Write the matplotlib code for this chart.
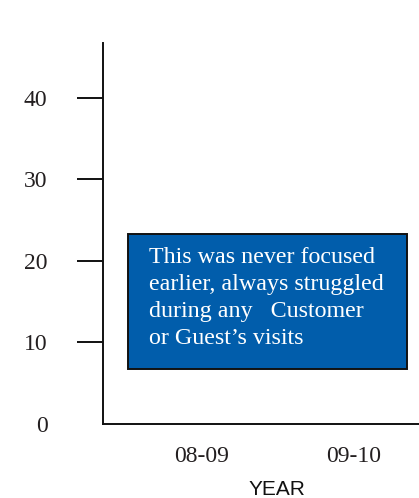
import matplotlib
matplotlib.use("Agg")
import matplotlib.pyplot as plt
from matplotlib.patches import Rectangle

# dades
years = ['08-09', '09-10']
y_ticks = [0, 10, 20, 30, 40]
note = ("This was never focused\n"
        "earlier, always struggled\n"
        "during any   Customer\n"
        "or Guest\u2019s visits")

fig = plt.figure(figsize=(4.19, 4.98), dpi=100)
ax = fig.add_axes([0.2458, 0.1486, 0.7542, 0.7651])

x = list(range(len(years)))
ax.set_xlim(-0.651, 1.43)
ax.set_ylim(0, 46.7)

ax.set_xticks(x)
ax.set_xticklabels(years, family='Liberation Serif', fontsize=17, color='#231f20')
ax.set_yticks(y_ticks)
ax.set_yticklabels([str(v) for v in y_ticks], family='Liberation Serif', fontsize=17, color='#231f20')
ax.tick_params(axis='x', length=0, pad=16)
ax.tick_params(axis='y', length=19, width=1.4, pad=21, color='#111111')
ax.yaxis.get_major_ticks()[0].tick1line.set_visible(False)

for s in ['top', 'right']:
    ax.spines[s].set_visible(False)
for s in ['left', 'bottom']:
    ax.spines[s].set_linewidth(1.4)
    ax.spines[s].set_color('#111111')

ax.set_xlabel('YEAR', family='Liberation Sans', fontsize=15, color='#111111', va='center')
ax.xaxis.set_label_coords(0.55, -0.173)

# quadre de text
box = Rectangle((-0.487, 6.7), 1.836, 16.55, facecolor='#015dab',
                edgecolor='#111111', linewidth=1.4, clip_on=False)
ax.add_patch(box)
ax.text(-0.35, 21.7, note, family='Liberation Serif', fontsize=17.3, color='white',
        va='top', ha='left', linespacing=1.37)

fig.savefig('out.png', dpi=100)
